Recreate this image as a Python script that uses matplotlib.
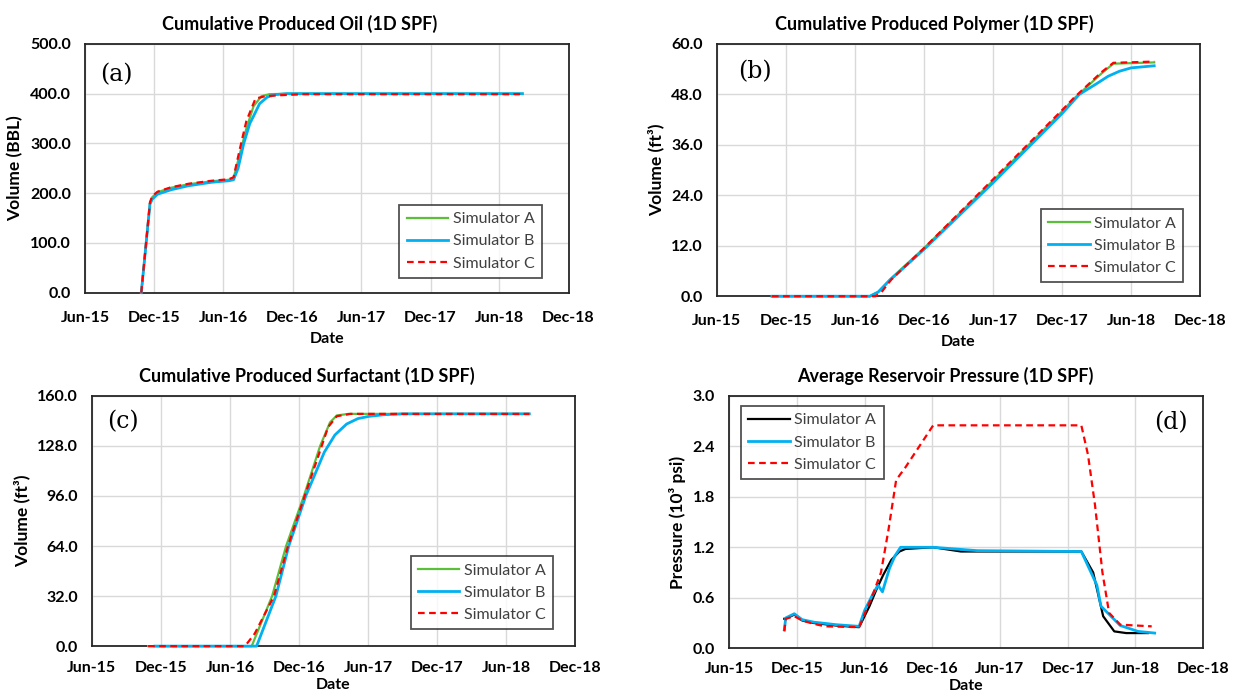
import numpy as np
import pandas as pd
import matplotlib
matplotlib.use("Agg")
import matplotlib.pyplot as plt
import matplotlib.dates as mdates
from matplotlib.ticker import FormatStrFormatter

plt.rcParams['font.family'] = ['Lato', 'DejaVu Sans']

# ---- cumulative oil (BBL)
oil_a_dates = ['2015-10-28', '2015-11-20', '2015-11-26', '2015-12-10', '2016-01-15', '2016-03-01',
               '2016-05-01', '2016-06-15', '2016-06-28', '2016-07-15', '2016-08-01', '2016-08-20',
               '2016-09-10', '2016-10-01', '2016-12-01', '2018-08-01']
oil_a = [0, 180, 192, 202, 211, 218, 224, 227, 230, 280, 330, 375, 395, 399, 400, 400]
oil_b_dates = ['2015-10-28', '2015-11-20', '2015-11-26', '2015-12-10', '2016-01-15', '2016-03-01',
               '2016-05-01', '2016-06-15', '2016-06-28', '2016-07-10', '2016-07-25', '2016-08-10',
               '2016-08-20', '2016-09-05', '2016-09-25', '2016-10-15', '2016-11-15', '2018-08-01']
oil_b = [0, 178, 188, 198, 207, 215, 222, 225, 227, 250, 300, 340, 355, 380, 393, 398, 400, 400]
oil_c_dates = ['2015-10-28', '2015-11-20', '2015-11-26', '2015-12-10', '2016-01-15', '2016-03-01',
               '2016-05-01', '2016-06-15', '2016-06-28', '2016-07-15', '2016-08-01', '2016-08-25',
               '2016-09-20', '2016-11-01', '2017-01-01', '2018-08-01']
oil_c = [0, 182, 194, 203, 212, 219, 225, 228, 232, 290, 345, 390, 395, 397, 399, 399]

# ---- cumulative polymer (ft3)
poly_a_dates = ['2015-10-25', '2016-07-10', '2016-08-01', '2016-09-01', '2016-12-01', '2017-06-01',
                '2017-12-01', '2018-01-01', '2018-03-15', '2018-04-15', '2018-08-01']
poly_a = [0, 0, 1, 4, 11.5, 27.5, 44, 47, 53, 55.3, 55.6]
poly_b_dates = ['2015-10-25', '2016-07-10', '2016-08-01', '2016-09-01', '2016-12-01', '2017-06-01',
                '2017-12-01', '2018-01-15', '2018-03-01', '2018-04-01', '2018-05-01', '2018-06-01',
                '2018-08-01']
poly_b = [0, 0, 1, 3.8, 11.2, 27, 43.5, 48, 50.5, 52.3, 53.5, 54.3, 54.8]
poly_c_dates = ['2015-10-25', '2016-07-25', '2016-08-10', '2016-09-05', '2016-12-01', '2017-06-01',
                '2017-12-01', '2018-01-01', '2018-03-15', '2018-04-15', '2018-08-01']
poly_c = [0, 0, 1, 4, 11.5, 27.8, 44.3, 47.2, 53.3, 55.5, 55.8]

# ---- cumulative surfactant (ft3)
surf_a_dates = ['2015-10-28', '2016-07-28', '2016-09-20', '2016-10-27', '2016-12-13', '2017-01-25',
                '2017-02-20', '2017-03-10', '2017-04-10', '2018-08-01']
surf_a = [0, 0, 32, 64, 96, 128, 143, 147.5, 148.5, 148.5]
surf_b_dates = ['2015-11-15', '2016-08-10', '2016-09-30', '2016-11-03', '2016-12-18', '2017-02-05',
                '2017-03-05', '2017-04-05', '2017-05-05', '2017-06-05', '2017-07-15', '2017-09-01',
                '2018-08-01']
surf_b = [0, 0, 32, 64, 96, 124, 135, 142, 145.5, 147, 148, 148.5, 148.5]
surf_c_dates = ['2015-10-28', '2016-07-10', '2016-07-20', '2016-08-05', '2016-09-25', '2016-11-01',
                '2016-12-15', '2017-01-25', '2017-02-15', '2017-03-10', '2017-04-15', '2018-08-01']
surf_c = [0, 0, 3, 8, 32, 64, 96, 125, 140, 147, 148.5, 148.5]

# ---- average reservoir pressure (10^3 psi)
pres_a_dates = ['2015-10-28', '2015-11-01', '2015-11-24', '2015-12-15', '2016-01-15', '2016-02-15',
                '2016-03-15', '2016-04-15', '2016-05-17', '2016-06-14', '2016-07-03', '2016-07-21',
                '2016-08-12', '2016-09-03', '2016-09-19', '2016-12-03', '2017-02-16', '2018-01-07',
                '2018-02-08', '2018-03-07', '2018-04-06', '2018-05-08', '2018-07-06']
pres_a = [0.35, 0.35, 0.40, 0.33, 0.30, 0.285, 0.27, 0.26, 0.25, 0.50, 0.70, 0.87,
          1.05, 1.15, 1.18, 1.20, 1.15, 1.15, 0.90, 0.38, 0.20, 0.18, 0.18]
pres_b_dates = ['2015-10-28', '2015-11-01', '2015-11-24', '2015-12-15', '2016-01-15', '2016-02-15',
                '2016-03-15', '2016-04-15', '2016-05-17', '2016-06-01', '2016-06-24', '2016-07-07',
                '2016-07-19', '2016-08-07', '2016-08-22', '2016-09-06', '2016-12-03', '2017-04-01',
                '2018-01-07', '2018-02-18', '2018-03-01', '2018-04-22', '2018-06-09', '2018-07-24']
pres_b = [0.22, 0.36, 0.41, 0.34, 0.31, 0.295, 0.28, 0.27, 0.26, 0.45, 0.65, 0.75,
          0.67, 0.95, 1.10, 1.20, 1.20, 1.16, 1.15, 0.75, 0.50, 0.27, 0.20, 0.18]
pres_c_dates = ['2015-10-28', '2015-11-01', '2015-11-24', '2015-12-15', '2016-01-15', '2016-02-15',
                '2016-05-17', '2016-06-24', '2016-07-15', '2016-08-04', '2016-08-25', '2016-09-19',
                '2016-12-03', '2018-01-07', '2018-01-25', '2018-02-13', '2018-03-05', '2018-03-23',
                '2018-04-22', '2018-07-16']
pres_c = [0.20, 0.35, 0.38, 0.33, 0.29, 0.26, 0.25, 0.65, 0.90, 1.40, 2.00, 2.15,
          2.65, 2.65, 2.30, 1.70, 0.90, 0.42, 0.28, 0.26]

sim_labels = ['Simulator A', 'Simulator B', 'Simulator C']
GREEN, BLUE, RED = '#5bbf3a', '#00b0f0', '#ff0000'


def style_axes(ax, title, ylabel, ymax, ystep, fmt, title_x, xpad=13, labelpad=5):
    ax.set_xlim(pd.Timestamp('2015-06-01'), pd.Timestamp('2018-12-01'))
    ax.set_ylim(0, ymax)
    ax.set_yticks(np.arange(0, ymax + ystep / 2, ystep))
    ax.yaxis.set_major_formatter(FormatStrFormatter(fmt))
    ax.xaxis.set_major_locator(mdates.MonthLocator(bymonth=[6, 12], bymonthday=1))
    ax.xaxis.set_major_formatter(mdates.DateFormatter('%b-%y'))
    ax.grid(True, color='#d9d9d9', linewidth=1.0)
    ax.set_axisbelow(True)
    ax.tick_params(length=0, labelsize=11.5)
    ax.tick_params(axis='x', pad=xpad)
    ax.tick_params(axis='y', pad=10)
    for lab in ax.get_xticklabels() + ax.get_yticklabels():
        lab.set_fontweight('bold')
    for sp in ax.spines.values():
        sp.set_color('#262626')
        sp.set_linewidth(1.3)
    ax.set_title(title, fontsize=13, fontweight='bold', x=title_x, pad=10)
    ax.set_xlabel('Date', fontsize=11.5, fontweight='bold', labelpad=labelpad)
    ax.set_ylabel(ylabel, fontsize=12.5, fontweight='bold', labelpad=5)


def add_legend(ax, **kw):
    leg = ax.legend(fontsize=11.5, frameon=True, fancybox=False, edgecolor='#262626',
                    handlelength=2.6, borderpad=0.45, labelspacing=0.5, handletextpad=0.3,
                    borderaxespad=0, **kw)
    leg.get_frame().set_linewidth(1.3)
    for t in leg.get_texts():
        t.set_color('#404040')


def tag(ax, s, x, y):
    ax.text(x, y, s, transform=ax.transAxes, fontsize=17, family='DejaVu Serif',
            ha='center', va='center')


def draw(ax, dates, vals, **kw):
    ax.plot(pd.to_datetime(dates), vals, clip_on=False, zorder=3, **kw)


fig = plt.figure(figsize=(12.4, 6.97), dpi=100)
ax_a = fig.add_axes([0.0685, 0.580, 0.390, 0.357])
ax_b = fig.add_axes([0.578, 0.575, 0.390, 0.362])
ax_c = fig.add_axes([0.074, 0.073, 0.390, 0.359])
ax_d = fig.add_axes([0.588, 0.070, 0.382, 0.362])

lw = 1.6
dash = (0, (3, 2))

# (a) oil
draw(ax_a, oil_a_dates, oil_a, color=GREEN, lw=lw, label=sim_labels[0])
draw(ax_a, oil_b_dates, oil_b, color=BLUE, lw=lw + 0.4, label=sim_labels[1])
draw(ax_a, oil_c_dates, oil_c, color=RED, lw=lw, ls=dash, label=sim_labels[2])
style_axes(ax_a, 'Cumulative Produced Oil (1D SPF)', 'Volume (BBL)', 500, 100, '%.1f', 0.443)
add_legend(ax_a, loc='lower right', bbox_to_anchor=(0.945, 0.06))
tag(ax_a, '(a)', 0.064, 0.875)

# (b) polymer
draw(ax_b, poly_a_dates, poly_a, color=GREEN, lw=lw, label=sim_labels[0])
draw(ax_b, poly_b_dates, poly_b, color=BLUE, lw=lw + 0.4, label=sim_labels[1])
draw(ax_b, poly_c_dates, poly_c, color=RED, lw=lw, ls=dash, label=sim_labels[2])
style_axes(ax_b, 'Cumulative Produced Polymer (1D SPF)', 'Volume (ft³)', 60, 12, '%.1f', 0.45)
add_legend(ax_b, loc='lower right', bbox_to_anchor=(0.965, 0.056))
tag(ax_b, '(b)', 0.078, 0.89)

# (c) surfactant
draw(ax_c, surf_a_dates, surf_a, color=GREEN, lw=lw, label=sim_labels[0])
draw(ax_c, surf_b_dates, surf_b, color=BLUE, lw=lw + 0.4, label=sim_labels[1])
draw(ax_c, surf_c_dates, surf_c, color=RED, lw=lw, ls=dash, label=sim_labels[2])
style_axes(ax_c, 'Cumulative Produced Surfactant (1D SPF)', 'Volume (ft³)', 160, 32, '%.1f', 0.444,
           xpad=11, labelpad=2)
add_legend(ax_c, loc='lower right', bbox_to_anchor=(0.954, 0.068))
tag(ax_c, '(c)', 0.065, 0.896)

# (d) pressure
draw(ax_d, pres_a_dates, pres_a, color='black', lw=lw, label=sim_labels[0])
draw(ax_d, pres_b_dates, pres_b, color=BLUE, lw=lw + 0.4, label=sim_labels[1])
draw(ax_d, pres_c_dates, pres_c, color=RED, lw=lw, ls=dash, label=sim_labels[2])
style_axes(ax_d, 'Average Reservoir Pressure (1D SPF)', 'Pressure (10³ psi)', 3.0, 0.6, '%.1f', 0.456,
           xpad=10, labelpad=2)
add_legend(ax_d, loc='upper left', bbox_to_anchor=(0.025, 0.96))
tag(ax_d, '(d)', 0.932, 0.893)

fig.savefig('out.png', dpi=100, facecolor='white')
